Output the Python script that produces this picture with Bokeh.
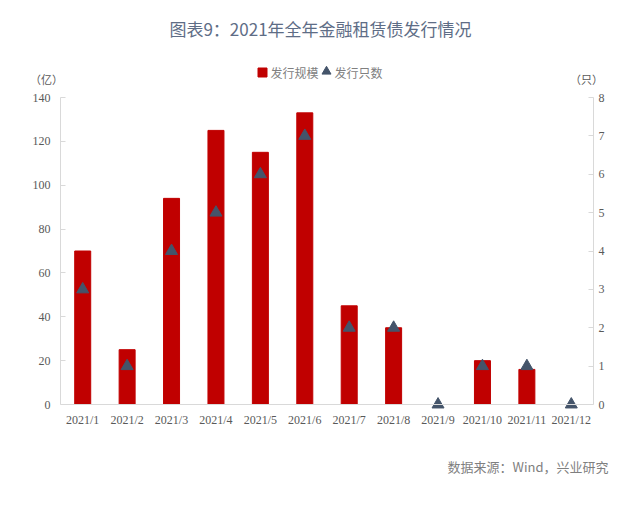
from bokeh.plotting import figure
from bokeh.models import Range1d, LinearAxis, FactorRange, ColumnDataSource, FixedTicker, Span
from bokeh.layouts import column
from bokeh.core.properties import value
from bokeh.embed import file_html
from bokeh.resources import INLINE

months = ["2021/1", "2021/2", "2021/3", "2021/4", "2021/5", "2021/6",
          "2021/7", "2021/8", "2021/9", "2021/10", "2021/11", "2021/12"]
scale = [70, 25, 94, 125, 115, 133, 45, 35, 0, 20, 16, 0]     # 亿
count = [3, 1, 4, 5, 6, 7, 2, 2, 0, 1, 1, 0]                   # 只
title_text = "图表9：2021年全年金融租赁债发行情况"
legend_labels = ["发行规模", "发行只数"]
source_text = "数据来源：Wind，兴业研究"

W = 630
RED = "#C00000"
NAVY = "#44546A"
TICK_FONT = "Liberation Serif"
CJK = "Noto Sans CJK SC"
AX_COLOR = "#D9D9D9"
LBL_COLOR = "#595959"


def strip(h):
    f = figure(width=W, height=h, x_range=Range1d(0, W), y_range=Range1d(h, 0),
               output_backend="svg", toolbar_location=None,
               x_axis_location=None, y_axis_location=None, frame_align=False,
               min_border_left=0, min_border_right=0, min_border_top=0, min_border_bottom=0)
    f.outline_line_color = None
    f.grid.visible = False
    return f


# ---- top strip: title, legend, units
TH = 87
top = strip(TH)
top.text(x=[320], y=[28], text=[title_text], text_align="center", text_baseline="middle",
         text_font=value(CJK), text_font_size="17px", text_color="#5E6D86")
top.scatter(x=[262], y=[72], marker="square", size=9, fill_color=RED, line_color=RED)
top.text(x=[270], y=[72], text=[legend_labels[0]], text_align="left", text_baseline="middle",
         text_font=value(CJK), text_font_size="12px", text_color="#808080")
top.scatter(x=[326], y=[71], marker="triangle", size=9, fill_color=NAVY, line_color=NAVY)
top.text(x=[334], y=[72], text=[legend_labels[1]], text_align="left", text_baseline="middle",
         text_font=value(CJK), text_font_size="12px", text_color="#808080")
top.text(x=[46, 586], y=[78, 78], text=["（亿）", "（只）"], text_align="center",
         text_baseline="middle", text_font=value(CJK), text_font_size="11px",
         text_color=LBL_COLOR)

# ---- main chart (frame extends 8px below zero so zero-count markers are not clipped)
PX_PER_AMT = 307 / 140
PX_PER_CNT = 307 / 8
EXT = 8
src = ColumnDataSource(dict(m=months, s=scale, c=count))
p = figure(width=W, height=10 + 307 + EXT + 30, x_range=FactorRange(*months, range_padding=0),
           y_range=Range1d(-EXT / PX_PER_AMT, 140), output_backend="svg", toolbar_location=None,
           frame_align=False,
           min_border_left=60, min_border_right=37, min_border_top=10, min_border_bottom=30)
p.extra_y_ranges = {"cnt": Range1d(-EXT / PX_PER_CNT, 8)}
p.outline_line_color = None
p.grid.visible = False

p.add_layout(Span(location=0, dimension="width", line_color=AX_COLOR, line_width=1))
p.vbar(x="m", top="s", bottom=0, width=0.36, source=src, fill_color=RED, line_color=RED)
p.scatter(x="m", y="c", y_range_name="cnt", marker="triangle", size=12,
          fill_color=NAVY, line_color=NAVY, source=src)

ly = p.yaxis[0]
ly.ticker = FixedTicker(ticks=list(range(0, 141, 20)))
ly.bounds = (0, 140)
ry = LinearAxis(y_range_name="cnt", ticker=FixedTicker(ticks=list(range(0, 9))), bounds=(0, 8))
p.add_layout(ry, "right")
for ax, so in ((ly, 10), (ry, 5)):
    ax.axis_line_color = AX_COLOR
    ax.major_tick_line_color = AX_COLOR
    ax.major_tick_in = 5
    ax.major_tick_out = 0
    ax.minor_tick_line_color = None
    ax.major_label_text_font = TICK_FONT
    ax.major_label_text_font_size = "12px"
    ax.major_label_text_color = LBL_COLOR
    ax.major_label_standoff = so

bx = p.xaxis[0]
bx.axis_line_color = None
bx.major_tick_line_color = None
bx.minor_tick_line_color = None
bx.major_label_text_font = TICK_FONT
bx.major_label_text_font_size = "12px"
bx.major_label_text_color = LBL_COLOR
bx.major_label_standoff = -6

# ---- bottom strip: source
BH = 50
bot = strip(BH)
bot.text(x=[608], y=[24], text=[source_text], text_align="right", text_baseline="middle",
         text_font=value(CJK), text_font_size="13px", text_color="#7F7F7F")

layout = column(top, p, bot, spacing=0)
open("out.html", "w").write(file_html(layout, INLINE))
